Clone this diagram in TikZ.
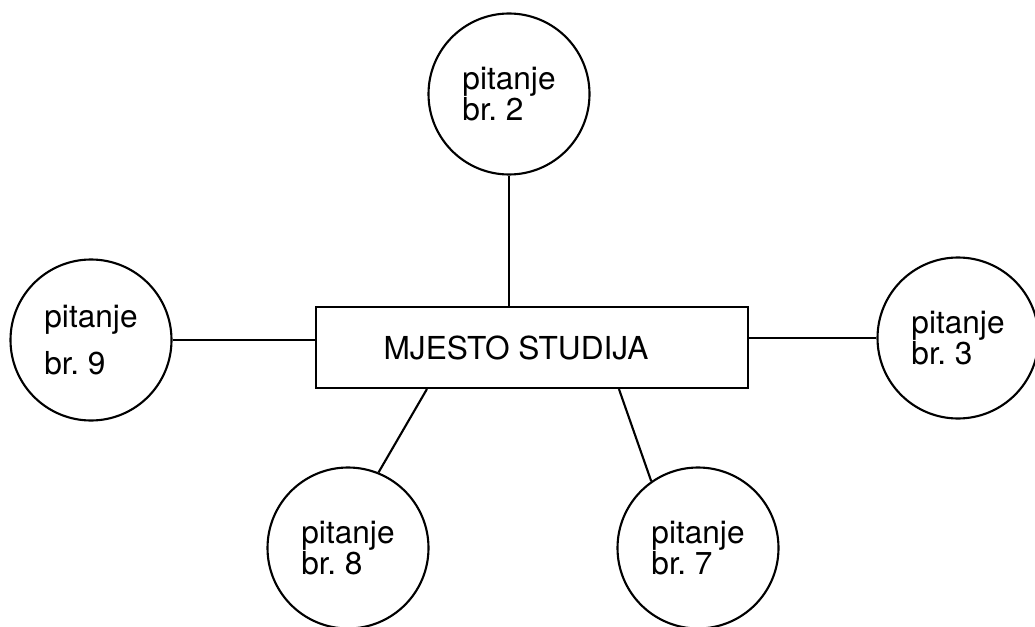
\documentclass[tikz,border=0pt]{standalone}
\usepackage{fontspec}
\setmainfont{TeX Gyre Heros}
\usetikzlibrary{shapes, positioning}
\tikzstyle{question} = [circle, draw=black, line width=1.2pt, minimum size=3.22cm, inner sep=0, align=left,
                        font=\fontsize{18}{18}\selectfont\frenchspacing]
\tikzstyle{place} = [rectangle, draw=black, line width=1.2pt, minimum width=8.64cm, minimum height=1.62cm,
                     font=\fontsize{18}{18}\selectfont]

\begin{document}
\begin{tikzpicture}[line width=1.2pt]
				\useasboundingbox (0, 0) rectangle (20.7, 12.52);

				\node (Place) [place] at (10.64, 5.57) {MJESTO STUDIJA\kern0.64cm};

				% top
				\node (Q2) [question] at (10.18, 10.64) {pitanje\\br. 2};
				\draw (Q2) -- (Q2 |- Place.north);

				% left and right
				\node (Q9) [question] at (1.82, 5.72) {pitanje\\[0.3cm]br. 9};
				\draw (Q9) -- (Q9 -| Place.west);

				\node (Q3) [question] at (19.16, 5.76) {pitanje\\br. 3};
				\draw (Q3 -| Place.east) -- (Q3);

				% bottom
				\node (Q8) [question] at (6.96, 1.56) {pitanje\\br. 8};
				\coordinate (EightIn) at ([xshift=2.24cm]Place.south west);
				\draw (EightIn) -- (Q8.68);

				\node (Q7) [question] at (13.96, 1.56) {pitanje\\br. 7};
				\coordinate (SevenIn) at ([xshift=6.08cm]Place.south west);
				\draw (SevenIn) -- (Q7.125);
\end{tikzpicture}
\end{document}
